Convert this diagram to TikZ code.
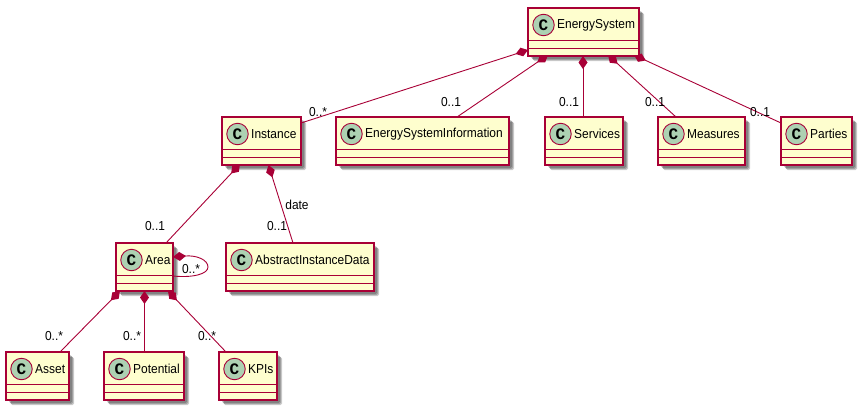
\documentclass[tikz,border=0pt]{standalone}
\usepackage{fontspec}
\setmainfont[FakeStretch=0.92]{Liberation Sans}
\newfontfamily\spotfont{Liberation Mono}
\usetikzlibrary{arrows.meta,calc}
\pgfdeclarelayer{shad}
\pgfdeclarelayer{conn}
\pgfsetlayers{shad,conn,main}
\definecolor{umlline}{HTML}{A80036}
\definecolor{umlfill}{HTML}{FEFECE}
\definecolor{umlspot}{HTML}{ADD1B2}
\tikzset{
  classbox/.style={draw=umlline,fill=umlfill,line width=1.05pt,inner sep=0pt,outer sep=0pt},
  shade1/.style={fill=black,opacity=.2,rounded corners=1.5pt},
  spot/.style={circle,draw=umlline,fill=umlspot,line width=.9pt,minimum size=21.5pt,inner sep=0pt,
    font=\spotfont\bfseries\fontsize{16}{16}\selectfont},
  classname/.style={anchor=west,inner sep=0pt,font=\fontsize{13}{15}\selectfont,text=black},
  card/.style={inner sep=0pt,font=\fontsize{13}{15}\selectfont,text=black},
  comp/.style={draw=umlline,line width=.9pt,
    {Turned Square[length=13pt,width=9pt,fill=umlline,line width=0pt]}-},
  sep/.style={draw=umlline,line width=1pt}
}
\newcommand{\umlclass}[5]{%
  \node[classbox,minimum width=#3pt,minimum height=48pt] (#1) at ({#2+#3/2},{#4+24}) {};
  \begin{pgfonlayer}{shad}
    \fill[shade1] ($(#1.north west)+(3,3)$) rectangle ($(#1.south east)+(3,3)$);
    \fill[shade1] ($(#1.north west)+(4,4)$) rectangle ($(#1.south east)+(4,4)$);
    \fill[shade1] ($(#1.north west)+(5,5)$) rectangle ($(#1.south east)+(5,5)$);
  \end{pgfonlayer}
  \node[spot] (#1C) at ($(#1.north west)+(15.5,17)$) {C};
  \node[classname] (#1L) at ($(#1.north west)+(29,17)$) {#5};
  \draw[sep] ($(#1.south west)+(0,-16)$) -- ($(#1.south east)+(0,-16)$);
  \draw[sep] ($(#1.south west)+(0,-8)$) -- ($(#1.south east)+(0,-8)$);
}
\begin{document}
\begin{tikzpicture}[x=1pt,y=-1pt]
\useasboundingbox (0,0) rectangle (861,410);
\umlclass{es}{528}{111}{8}{EnergySystem}
\umlclass{inst}{222}{79}{117}{Instance}
\umlclass{esi}{336}{173}{117}{EnergySystemInformation}
\umlclass{serv}{545}{78}{117}{Services}
\umlclass{meas}{658}{87}{117}{Measures}
\umlclass{part}{781}{71}{117}{Parties}
\umlclass{area}{116}{57}{243}{Area}
\umlclass{aid}{226}{148}{243}{AbstractInstanceData}
\umlclass{asset}{6}{63}{352}{Asset}
\umlclass{pot}{104}{80}{352}{Potential}
\umlclass{kpi}{219}{58}{352}{KPIs}

\begin{pgfonlayer}{conn}
\draw[comp] ($(es.north west)+(0,42)$) -- ($(inst.north east)+(0,6)$);
\draw[comp] ($(es.south west)+(20,-1)$) -- ($(esi.north west)+(121,0)$);
\draw[comp] ($(es.south west)+(55,0)$) -- ($(serv.north west)+(38,0)$);
\draw[comp] ($(es.south west)+(80,-1)$) -- ($(meas.north west)+(18,0)$);
\draw[comp] ($(es.south west)+(106,-1)$) -- ($(part.north west)+(0,6)$);
\draw[comp] ($(inst.south west)+(18,-1)$) -- ($(area.north west)+(50,0)$);
\draw[comp] ($(inst.south west)+(46.5,0)$) -- ($(aid.north west)+(67,0)$);
\draw[comp] ($(area.north east)+(0,14)$) .. controls ($(area.north east)+(24,12)$) and ($(area.north east)+(35,17)$) .. ($(area.north east)+(35,24)$) .. controls ($(area.north east)+(35,31)$) and ($(area.north east)+(20,35)$) .. ($(area.north east)+(0,33)$);
\draw[comp] ($(area.south west)+(4,0)$) -- ($(asset.north west)+(54,0)$);
\draw[comp] ($(area.south west)+(28.5,0)$) -- ($(pot.north west)+(40.5,0)$);
\draw[comp] ($(area.south west)+(52,0)$) -- ($(kpi.north west)+(7,0)$);
\end{pgfonlayer}

\node[card] (c1) at (318,112) {0..*};
\node[card] (c2) at (451,102) {0..1};
\node[card] (c3) at (569,102) {0..1};
\node[card] (c4) at (655,102) {0..1};
\node[card] (c5) at (760,112) {0..1};
\node[card] (c6) at (155,226) {0..1};
\node[card] (c7) at (277,226) {0..1};
\node[card] (c8) at (297,205) {date};
\node[card] (c9) at (191,269) {0..*};
\node[card] (c10) at (54,336) {0..*};
\node[card] (c11) at (132,336) {0..*};
\node[card] (c12) at (207,336) {0..*};
\end{tikzpicture}
\end{document}
